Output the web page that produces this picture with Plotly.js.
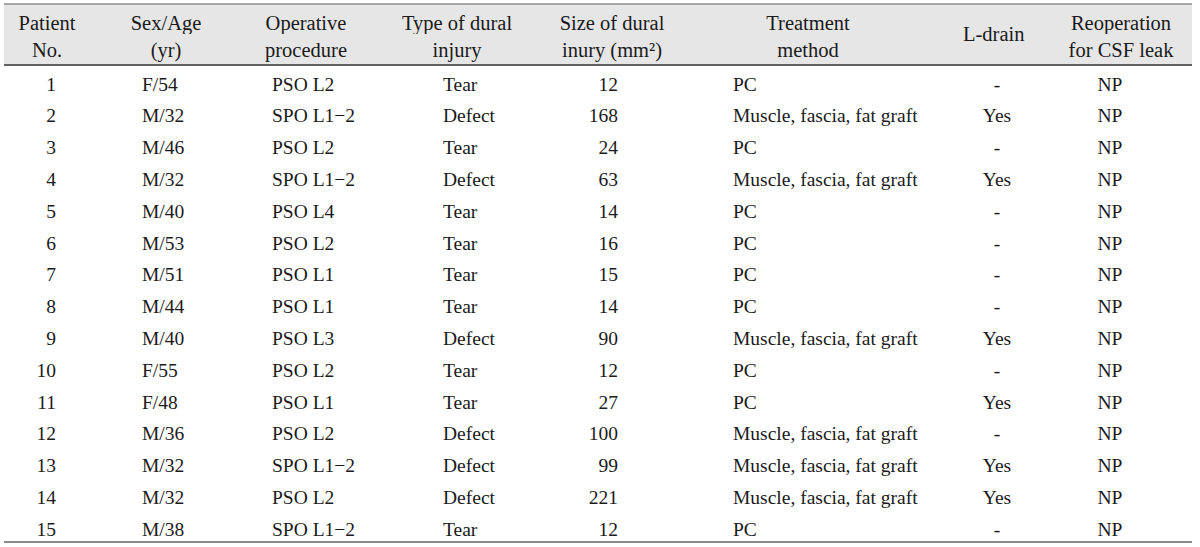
<!DOCTYPE html>
<html>
<head>
<meta charset="utf-8">
<script src="https://cdn.plot.ly/plotly-3.0.1.min.js"></script>
<style>html,body{margin:0;padding:0;background:#fff;}#chart{width:1200px;height:547px;}</style>
</head>
<body>
<div id="chart"></div>
<script>
// ---- data ----
var headerLine1 = ['Patient', 'Sex/Age', 'Operative', 'Type of dural', 'Size of dural', 'Treatment', '', 'Reoperation'];
var headerLine2 = ['No.', '(yr)', 'procedure', 'injury', 'inury (mm²)', 'method', '', 'for CSF leak'];
var lDrainHeader = 'L-drain';
var patientNo = [1,2,3,4,5,6,7,8,9,10,11,12,13,14,15];
var sexAge = ['F/54','M/32','M/46','M/32','M/40','M/53','M/51','M/44','M/40','F/55','F/48','M/36','M/32','M/32','M/38'];
var procedure = ['PSO L2','SPO L1−2','PSO L2','SPO L1−2','PSO L4','PSO L2','PSO L1','PSO L1','PSO L3','PSO L2','PSO L1','PSO L2','SPO L1−2','PSO L2','SPO L1−2'];
var injuryType = ['Tear','Defect','Tear','Defect','Tear','Tear','Tear','Tear','Defect','Tear','Tear','Defect','Defect','Defect','Tear'];
var injurySize = [12,168,24,63,14,16,15,14,90,12,27,100,99,221,12];
var treatment = ['PC','Muscle, fascia, fat graft','PC','Muscle, fascia, fat graft','PC','PC','PC','PC','Muscle, fascia, fat graft','PC','PC','Muscle, fascia, fat graft','Muscle, fascia, fat graft','Muscle, fascia, fat graft','PC'];
var lDrain = ['-','Yes','-','Yes','-','-','-','-','Yes','-','Yes','-','Yes','Yes','-'];
var reoperation = ['NP','NP','NP','NP','NP','NP','NP','NP','NP','NP','NP','NP','NP','NP','NP'];

// ---- geometry (pixels) ----
var W = 1200, H = 547;
var M = {l: 4, r: 8, t: 4, b: 1};
var PW = W - M.l - M.r, PH = H - M.t - M.b;
function py(y) { return 1 - (y - M.t) / PH; }
var headerTop = 4, headerShift = 3, headerBottom = 65, hdrRowH = 27, rowH = 31.8, tableBottom = 542, dataOffset = 3;
var headerWidths = [86, 152, 128, 174, 136, 256, 114, 142];
var FONT = 'Liberation Serif, Times New Roman, serif';
var TXT = '#1a1a1a';
var HDR_FILL = '#e6e6e6';
var HDR_SIZE = 20.5, CELL_SIZE = 19.5;

var hdrVals = headerLine1.map(function (h, i) { return [h, headerLine2[i]]; });
var hdrStart = headerTop + headerShift;
var headerTrace = {
  type: 'table',
  domain: {x: [0, 1], y: [py(headerBottom + 2), py(hdrStart)]},
  columnwidth: headerWidths,
  header: {
    values: hdrVals, height: hdrRowH, align: 'center',
    fill: {color: HDR_FILL}, line: {width: 0, color: HDR_FILL},
    font: {family: FONT, size: HDR_SIZE, color: TXT}
  },
  cells: {
    values: headerLine1.map(function () { return ['']; }),
    height: headerBottom - hdrStart - 2 * hdrRowH + 1,
    fill: {color: HDR_FILL}, line: {width: 0, color: HDR_FILL}
  }
};

var blank = patientNo.map(function () { return ''; });
var dataTrace = {
  type: 'table',
  domain: {x: [0, 1], y: [0, py(headerBottom - 1)]},
  columnwidth: [60, 70, 130, 171, 95, 96, 99, 241, 62, 164],
  header: {
    values: [[''],[''],[''],[''],[''],[''],[''],[''],[''],['']], height: 1 + dataOffset,
    fill: {color: '#ffffff'}, line: {width: 0, color: '#ffffff'}
  },
  cells: {
    values: [patientNo, blank, sexAge, procedure, injuryType, injurySize, blank, treatment, lDrain, reoperation],
    align: ['right', 'left', 'left', 'left', 'left', 'right', 'left', 'left', 'center', 'center'],
    height: rowH,
    fill: {color: '#ffffff'}, line: {width: 0, color: '#ffffff'},
    font: {family: FONT, size: CELL_SIZE, color: TXT}
  }
};

// center of L-drain header column
var ldIdx = 6, cum = 0;
for (var i = 0; i < ldIdx; i++) cum += headerWidths[i];
var totalW = headerWidths.reduce(function (a, b) { return a + b; }, 0);
var ldX = (cum + headerWidths[ldIdx] / 2) / totalW;

var layout = {
  width: W, height: H,
  margin: M,
  paper_bgcolor: '#ffffff', plot_bgcolor: '#ffffff',
  showlegend: false,
  annotations: [{
    text: lDrainHeader, xref: 'paper', yref: 'paper', x: ldX, y: py((headerTop + headerBottom) / 2),
    xanchor: 'center', yanchor: 'middle', showarrow: false,
    font: {family: FONT, size: HDR_SIZE, color: TXT}
  }],
  shapes: [
    {type: 'rect', layer: 'below', xref: 'paper', yref: 'paper', x0: 0, x1: 1, y0: py(hdrStart + 2), y1: py(headerTop), fillcolor: HDR_FILL, line: {width: 0}},
    {type: 'line', xref: 'paper', yref: 'paper', x0: 0, x1: 1, y0: py(headerTop), y1: py(headerTop), line: {color: '#8c8c8c', width: 1.5}},
    {type: 'line', xref: 'paper', yref: 'paper', x0: 0, x1: 1, y0: py(headerBottom), y1: py(headerBottom), line: {color: '#333333', width: 1.5}},
    {type: 'line', xref: 'paper', yref: 'paper', x0: 0, x1: 1, y0: py(tableBottom), y1: py(tableBottom), line: {color: '#8c8c8c', width: 2}}
  ]
};

Plotly.newPlot('chart', [dataTrace, headerTrace], layout, {staticPlot: true, displayModeBar: false});
</script>
</body>
</html>
